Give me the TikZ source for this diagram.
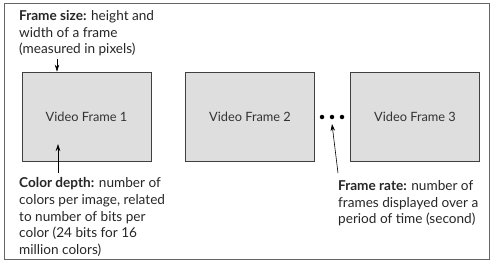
\documentclass[tikz,border=0pt]{standalone}
\usepackage{fontspec}
\setmainfont{Lato}
\usetikzlibrary{arrows.meta}
\begin{document}
\begin{tikzpicture}[x=1pt,y=-1pt,
  frame/.style={draw=black!75,line width=0.8pt,fill=black!13,minimum width=129pt,minimum height=89pt,inner sep=0pt,font=\fontsize{12.8}{15}\selectfont,text=black!80},
  note/.style={anchor=north west,inner sep=0pt,align=left,font=\fontsize{13.6}{16.6}\selectfont,text=black!85},
  pointer/.style={draw=black,line width=0.6pt,-{Stealth[length=7pt,width=4.5pt]}},
  dot/.style={circle,fill=black,inner sep=0pt,minimum size=4.5pt}]
\useasboundingbox (0,0) rectangle (500,265);
\draw[black!60,line width=0.8pt] (4,3) rectangle (489.5,259);
\node[frame] (f1) at (86.5,116.5) {Video Frame 1};
\node[frame] (f2) at (250,116.5) {Video Frame 2};
\node[frame] (f3) at (415,116.5) {Video Frame 3};
\node[dot] (d1) at (322,117) {};
\node[dot] (d2) at (332,117) {};
\node[dot] (d3) at (342,117) {};
\node[note] (size) at (19,10.5) {\textbf{Frame size:} height and\\width of a frame\\(measured in pixels)};
\node[note] (depth) at (19,177.5) {\textbf{Color depth:} number of\\colors per image, related\\to number of bits per\\color (24 bits for 16\\million colors)};
\node[note] (rate) at (338,180.5) {\textbf{Frame rate:} number of\\frames displayed over a\\period of time (second)};
\coordinate (sizestart) at (57,59);
\coordinate (depthstart) at (58,173);
\coordinate (depthtip) at (58,144);
\coordinate (ratestart) at (338,173);
\coordinate (ratetip) at (332,124);
\draw[pointer] (sizestart) -- (sizestart |- f1.north);
\draw[pointer] (depthstart) -- (depthtip);
\draw[pointer] (ratestart) -- (ratetip);
\end{tikzpicture}
\end{document}
